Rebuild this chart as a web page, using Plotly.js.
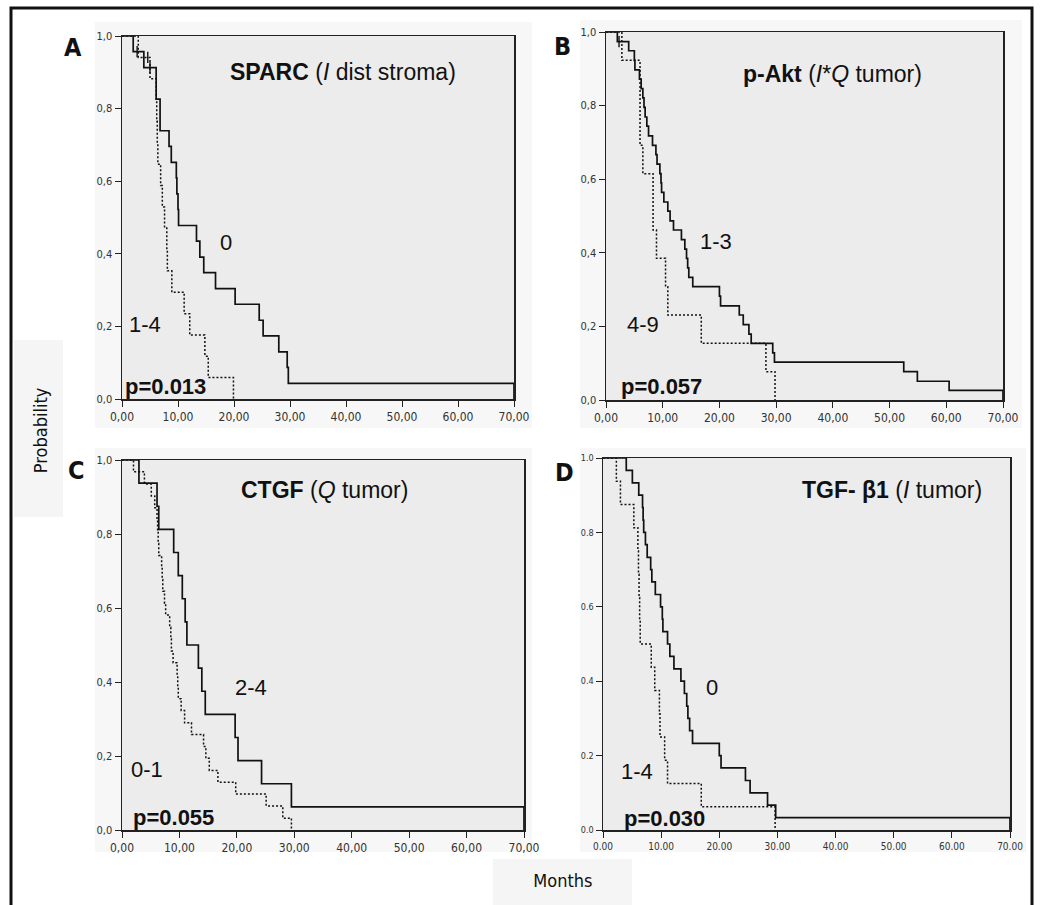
<!DOCTYPE html>
<html>
<head>
<meta charset="utf-8">
<script src="https://cdn.plot.ly/plotly-3.0.1.min.js"></script>
<style>
html,body{margin:0;padding:0;background:#fff;}
#chart{width:1040px;height:905px;}
#chart svg text{font-stretch:condensed;}
</style>
</head>
<body>
<div id="chart"></div>
<script>
// ---------- tick labels ----------
const xTickVals = [0, 10, 20, 30, 40, 50, 60, 70];
const xTickComma = ['0,00', '10,00', '20,00', '30,00', '40,00', '50,00', '60,00', '70,00'];
const xTickDot = ['0.00', '10.00', '20.00', '30.00', '40.00', '50.00', '60.00', '70.00'];
const yTickVals = [0, 0.2, 0.4, 0.6, 0.8, 1.0];
const yTickComma = ['0,0', '0,2', '0,4', '0,6', '0,8', '1,0'];
const yTickDot = ['0.0', '0.2', '0.4', '0.6', '0.8', '1.0'];

// ---------- Panel A: SPARC (I dist stroma) ----------
const aGroup0Months = [0, 2.0, 3.9, 6.1, 6.8, 8.4, 8.8, 9.7, 9.8, 10.0, 10.1, 13.3, 13.9, 14.6, 16.7, 20.2, 24.5, 25.2, 28.0, 29.5, 29.7, 70];
const aGroup0Surv = [1, 0.957, 0.913, 0.826, 0.739, 0.696, 0.652, 0.609, 0.565, 0.522, 0.478, 0.435, 0.391, 0.348, 0.304, 0.261, 0.217, 0.174, 0.130, 0.087, 0.043, 0];
const aGroup14Months = [0, 2.9, 5.0, 6.1, 6.2, 6.3, 6.4, 6.9, 7.2, 7.6, 8.0, 8.1, 8.9, 11.1, 12.1, 14.8, 15.4, 19.9];
const aGroup14Surv = [1, 0.941, 0.882, 0.824, 0.765, 0.706, 0.647, 0.588, 0.529, 0.471, 0.412, 0.353, 0.294, 0.235, 0.176, 0.118, 0.059, 0];
const aCensorSolidMonths = [2.7, 5.0];
const aCensorSolidSurv = [0.957, 0.913];
const aCensorDashMonths = [4.6];
const aCensorDashSurv = [0.941];

// ---------- Panel B: p-Akt (I*Q tumor) ----------
const bGroup13Months = [0, 2.0, 4.0, 5.0, 5.1, 5.9, 6.2, 6.5, 6.7, 6.9, 7.2, 7.5, 8.2, 8.8, 9.0, 9.5, 9.7, 9.8, 10.2, 10.9, 11.3, 11.9, 13.3, 13.9, 14.2, 14.4, 14.6, 15.3, 20.0, 20.2, 23.5, 24.2, 25.2, 25.6, 29.4, 29.7, 52.5, 54.9, 60.5, 70];
const bGroup13Surv = [1, 0.974, 0.949, 0.923, 0.897, 0.872, 0.846, 0.821, 0.795, 0.769, 0.744, 0.718, 0.692, 0.667, 0.641, 0.615, 0.590, 0.564, 0.538, 0.513, 0.487, 0.462, 0.436, 0.410, 0.385, 0.359, 0.333, 0.308, 0.282, 0.256, 0.231, 0.205, 0.179, 0.154, 0.128, 0.103, 0.077, 0.051, 0.026, 0];
const bGroup49Months = [0, 2.8, 6.0, 6.5, 8.3, 8.9, 10.5, 10.9, 16.8, 28.2, 29.8];
const bGroup49Surv = [1, 0.923, 0.692, 0.615, 0.462, 0.385, 0.308, 0.231, 0.154, 0.077, 0];
const bCensorSolidMonths = [2.3];
const bCensorSolidSurv = [0.974];

// ---------- Panel C: CTGF (Q tumor) ----------
const cGroup24Months = [0, 2.95, 6.1, 6.4, 9.0, 9.8, 10.5, 11.0, 11.3, 13.3, 13.9, 14.5, 19.7, 20.2, 24.3, 29.5, 70];
const cGroup24Surv = [1, 0.9375, 0.875, 0.8125, 0.75, 0.6875, 0.625, 0.5625, 0.5, 0.4375, 0.375, 0.3125, 0.25, 0.1875, 0.125, 0.0625, 0];
const cGroup01Months = [0, 2.0, 3.9, 5.1, 5.7, 6.1, 6.2, 6.3, 6.4, 6.9, 7.0, 7.1, 7.4, 7.6, 8.3, 8.5, 8.6, 8.9, 9.6, 9.7, 9.8, 10.3, 10.9, 12.1, 14.2, 14.6, 15.2, 16.7, 19.8, 25.1, 28.0, 29.5];
const cGroup01Surv = [1, 0.968, 0.935, 0.903, 0.871, 0.839, 0.806, 0.774, 0.742, 0.710, 0.677, 0.645, 0.613, 0.581, 0.548, 0.516, 0.484, 0.452, 0.419, 0.387, 0.355, 0.323, 0.290, 0.258, 0.226, 0.194, 0.161, 0.129, 0.097, 0.065, 0.032, 0];

// ---------- Panel D: TGF-β1 (I tumor) ----------
const dGroup0Months = [0, 4.0, 5.05, 6.15, 6.8, 6.9, 7.0, 7.3, 7.6, 8.2, 8.4, 9.0, 9.9, 10.2, 10.3, 11.1, 11.5, 12.2, 13.4, 14.0, 14.4, 14.6, 14.9, 15.4, 20.0, 20.3, 24.5, 25.3, 28.3, 29.7, 70];
const dGroup0Surv = [1, 0.967, 0.933, 0.9, 0.867, 0.833, 0.8, 0.767, 0.733, 0.7, 0.667, 0.633, 0.6, 0.567, 0.533, 0.5, 0.467, 0.433, 0.4, 0.367, 0.333, 0.3, 0.267, 0.233, 0.2, 0.167, 0.133, 0.1, 0.067, 0.033, 0];
const dGroup14Months = [0, 2.3, 3.0, 5.3, 6.0, 6.1, 6.2, 6.3, 6.4, 8.3, 8.9, 9.7, 9.8, 10.6, 11.1, 16.9, 29.6];
const dGroup14Surv = [1, 0.9375, 0.875, 0.8125, 0.75, 0.6875, 0.625, 0.5625, 0.5, 0.4375, 0.375, 0.3125, 0.25, 0.1875, 0.125, 0.0625, 0];

// ---------- styling ----------
const narrow = 'DejaVu Sans, sans-serif';
const arial = 'Arial, Liberation Sans, sans-serif';
const W = 1040, H = 905;
const px = v => v / W;
const py = v => 1 - v / H;

function solid(x, y, xa, ya) {
  return {x: x, y: y, xaxis: xa, yaxis: ya, mode: 'lines', line: {shape: 'hv', color: '#111', width: 1.7}, hoverinfo: 'skip'};
}
function dashed(x, y, xa, ya) {
  return {x: x, y: y, xaxis: xa, yaxis: ya, mode: 'lines', line: {shape: 'hv', color: '#111', width: 1.5, dash: '2px,2px'}, hoverinfo: 'skip'};
}
function censor(x, y, xa, ya) {
  return {x: x, y: y, xaxis: xa, yaxis: ya, mode: 'markers', marker: {symbol: 'line-ns', size: 8, line: {color: '#111', width: 1.4}}, hoverinfo: 'skip'};
}

const traces = [
  solid(aGroup0Months, aGroup0Surv, 'x', 'y'),
  dashed(aGroup14Months, aGroup14Surv, 'x', 'y'),
  censor(aCensorSolidMonths, aCensorSolidSurv, 'x', 'y'),
  censor(aCensorDashMonths, aCensorDashSurv, 'x', 'y'),
  solid(bGroup13Months, bGroup13Surv, 'x2', 'y2'),
  dashed(bGroup49Months, bGroup49Surv, 'x2', 'y2'),
  censor(bCensorSolidMonths, bCensorSolidSurv, 'x2', 'y2'),
  solid(cGroup24Months, cGroup24Surv, 'x3', 'y3'),
  dashed(cGroup01Months, cGroup01Surv, 'x3', 'y3'),
  solid(dGroup0Months, dGroup0Surv, 'x4', 'y4'),
  dashed(dGroup14Months, dGroup14Surv, 'x4', 'y4')
];

function xAxis(domain, anchor, ticktext, size) {
  return {domain: domain, anchor: anchor, range: [0, 70], tickvals: xTickVals, ticktext: ticktext,
    ticks: 'outside', ticklen: 6, tickwidth: 1, tickcolor: '#222', showline: true, linecolor: '#222', linewidth: 1.5,
    mirror: true, showgrid: false, zeroline: false, fixedrange: true,
    tickfont: {family: narrow, size: size, color: '#333'}};
}
function yAxis(domain, anchor, ticktext, size) {
  return {domain: domain, anchor: anchor, range: [0, 1], tickvals: yTickVals, ticktext: ticktext,
    ticks: 'outside', ticklen: 6, tickwidth: 1, tickcolor: '#222', showline: true, linecolor: '#222', linewidth: 1.5,
    mirror: true, showgrid: false, zeroline: false, fixedrange: true,
    tickfont: {family: narrow, size: size, color: '#333'}};
}

function lbl(text, x, y, xr, yr, size, bold) {
  return {text: bold ? '<b>' + text + '</b>' : text, x: x, y: y, xref: xr, yref: yr, showarrow: false,
    xanchor: 'center', yanchor: 'middle', font: {family: arial, size: size, color: '#111'}};
}
function paperLbl(text, x, y, size, angle) {
  return {text: text, x: px(x), y: py(y), xref: 'paper', yref: 'paper', showarrow: false, textangle: angle || 0,
    xanchor: 'center', yanchor: 'middle', font: {family: narrow, size: size, color: '#111'}};
}

const annotations = [
  paperLbl('<b>A</b>', 73, 47, 25), paperLbl('<b>B</b>', 562, 46, 25),
  paperLbl('<b>C</b>', 76, 470, 25), paperLbl('<b>D</b>', 564, 473, 25),
  paperLbl('Probability', 40, 431, 18, -90),
  paperLbl('Months', 563, 880, 18),
  lbl('<b>SPARC</b> (<i>I</i> dist stroma)', 39.4, 0.90, 'x', 'y', 23),
  lbl('0', 18.5, 0.432, 'x', 'y', 22),
  lbl('1-4', 4.1, 0.205, 'x', 'y', 22),
  lbl('p=0.013', 7.7, 0.035, 'x', 'y', 22, true),
  lbl('<b>p-Akt</b> (<i>I</i>*<i>Q</i> tumor)', 40.0, 0.886, 'x2', 'y2', 23),
  lbl('1-3', 19.4, 0.43, 'x2', 'y2', 22),
  lbl('4-9', 6.5, 0.205, 'x2', 'y2', 22),
  lbl('p=0.057', 9.8, 0.036, 'x2', 'y2', 22, true),
  lbl('<b>CTGF</b> (<i>Q</i> tumor)', 35.2, 0.918, 'x3', 'y3', 23),
  lbl('2-4', 22.4, 0.386, 'x3', 'y3', 22),
  lbl('0-1', 4.4, 0.164, 'x3', 'y3', 22),
  lbl('p=0.055', 8.9, 0.033, 'x3', 'y3', 22, true),
  lbl('<b>TGF- β1</b> (<i>I</i> tumor)', 49.7, 0.913, 'x4', 'y4', 23),
  lbl('0', 18.8, 0.384, 'x4', 'y4', 22),
  lbl('1-4', 5.8, 0.158, 'x4', 'y4', 22),
  lbl('p=0.030', 10.5, 0.030, 'x4', 'y4', 22, true)
];

function paperRect(x0, y0, x1, y1, fill) {
  return {type: 'rect', xref: 'paper', yref: 'paper', x0: px(x0), x1: px(x1), y0: py(y1), y1: py(y0),
    fillcolor: fill, line: {width: 0}, layer: 'below'};
}
function plotBg(xr, yr) {
  return {type: 'rect', xref: xr + ' domain', yref: yr + ' domain', x0: 0, x1: 1, y0: 0, y1: 1,
    fillcolor: '#ececec', line: {width: 0}, layer: 'below'};
}

const shapes = [
  paperRect(95, 22, 532, 428, '#f7f7f7'),
  paperRect(580, 20, 1022, 428, '#f7f7f7'),
  paperRect(95, 448, 532, 852, '#f7f7f7'),
  paperRect(580, 448, 1026, 852, '#f7f7f7'),
  paperRect(14, 340, 63, 517, '#f5f5f5'),
  paperRect(493, 859, 632, 910, '#f5f5f5'),
  plotBg('x', 'y'), plotBg('x2', 'y2'), plotBg('x3', 'y3'), plotBg('x4', 'y4'),
  {type: 'rect', xref: 'paper', yref: 'paper', x0: px(11), x1: px(1032), y0: -0.05, y1: py(8),
   fillcolor: 'rgba(0,0,0,0)', line: {color: '#111', width: 3}, layer: 'above'}
];

const layout = {
  width: W, height: H, margin: {l: 0, r: 0, t: 0, b: 0},
  paper_bgcolor: '#ffffff', plot_bgcolor: 'rgba(0,0,0,0)', showlegend: false,
  xaxis: xAxis([122 / W, 514 / W], 'y', xTickComma, 12),
  yaxis: yAxis([py(399), py(36)], 'x', yTickComma, 11),
  xaxis2: xAxis([606 / W, 1003 / W], 'y2', xTickComma, 12),
  yaxis2: yAxis([py(400), py(32)], 'x2', yTickComma, 11),
  xaxis3: xAxis([122 / W, 524 / W], 'y3', xTickComma, 12),
  yaxis3: yAxis([py(830), py(460)], 'x3', yTickComma, 11),
  xaxis4: xAxis([603 / W, 1010 / W], 'y4', xTickDot, 10),
  yaxis4: yAxis([py(830), py(458)], 'x4', yTickDot, 9),
  annotations: annotations,
  shapes: shapes
};

Plotly.newPlot('chart', traces, layout, {staticPlot: true, displayModeBar: false});
</script>
</body>
</html>
